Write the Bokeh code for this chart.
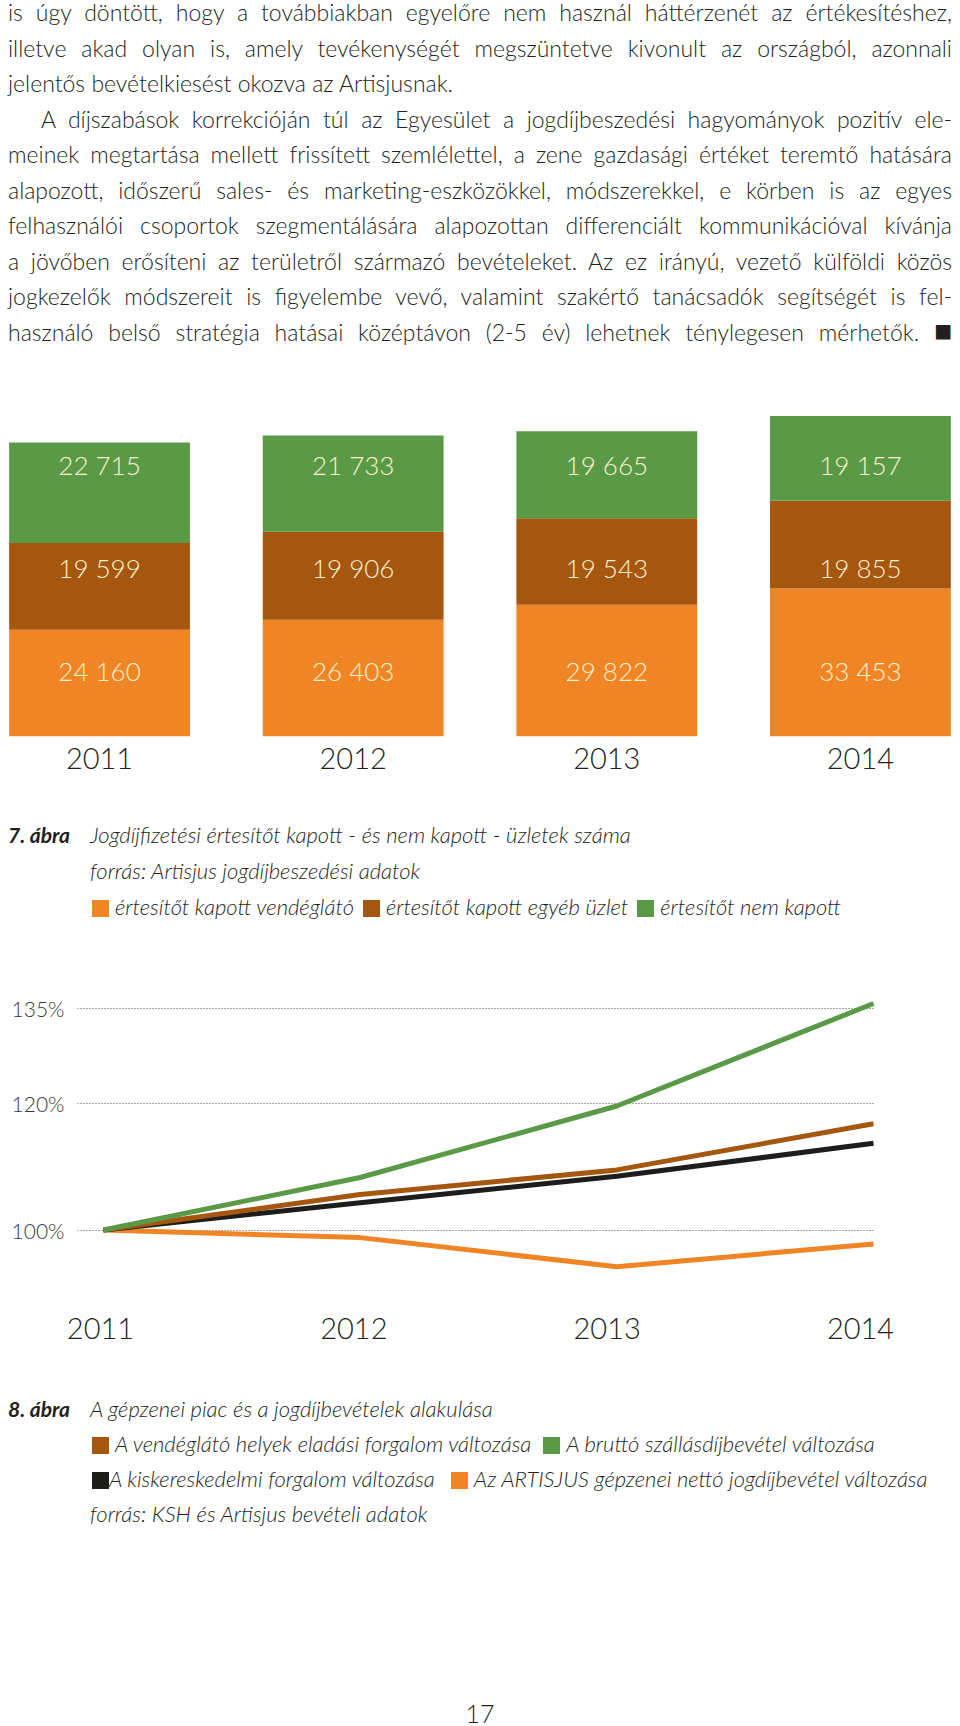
from bokeh.plotting import figure
from bokeh.models import (Div, ColumnDataSource, Range1d, FixedTicker, PrintfTickFormatter,
                          LinearAxis)
from bokeh.layouts import column
from bokeh.core.properties import value
from bokeh.embed import file_html
from bokeh.resources import INLINE

# ---------------- data ----------------
years = [2011, 2012, 2013, 2014]
vendeglato = [24160, 26403, 29822, 33453]      # értesítőt kapott vendéglátó
egyeb_uzlet = [19599, 19906, 19543, 19855]     # értesítőt kapott egyéb üzlet
nem_kapott = [22715, 21733, 19665, 19157]      # értesítőt nem kapott

line_years = [2011, 2012, 2013, 2014]
vendeglato_forgalom = [100, 105.6, 109.5, 116.8]
szallasdij = [100, 108.3, 119.6, 135.8]
kiskereskedelmi = [100, 104.3, 108.5, 113.7]
artisjus_netto = [100, 98.8, 94.2, 97.8]
pct_ticks = [100, 120, 135]

para_lines = [
    "is úgy döntött, hogy a továbbiakban egyelőre nem használ háttérzenét az értékesítéshez,",
    "illetve akad olyan is, amely tevékenységét megszüntetve kivonult az országból, azonnali",
    "jelentős bevételkiesést okozva az Artisjusnak.",
    "A díjszabások korrekcióján túl az Egyesület a jogdíjbeszedési hagyományok pozitív ele-",
    "meinek megtartása mellett frissített szemlélettel, a zene gazdasági értéket teremtő hatására",
    "alapozott, időszerű sales- és marketing-eszközökkel, módszerekkel, e körben is az egyes",
    "felhasználói csoportok szegmentálására alapozottan differenciált kommunikációval kívánja",
    "a jövőben erősíteni az területről származó bevételeket. Az ez irányú, vezető külföldi közös",
    "jogkezelők módszereit is figyelembe vevő, valamint szakértő tanácsadók segítségét is fel-",
    "használó belső stratégia hatásai középtávon (2-5 év) lehetnek ténylegesen mérhetők.",
]

# ---------------- style ----------------
GREEN = "#5a9a47"
BROWN = "#a5560f"
ORANGE = "#f08526"
BLACK = "#1d1d1b"
TEXT = "#231f20"
CREAM = "#fdf1cf"
LIGHT = "Lato Light"
HTML_FONT = "Lato, 'Lato Light', sans-serif"

# ---------------- paragraph ----------------
rows = []
for i, ln_text in enumerate(para_lines):
    align = "left" if i == 2 else "justify"
    indent = "33px" if i == 3 else "0px"
    if i == len(para_lines) - 1:
        ln_text += ' <span style="font-size:30px;line-height:0;">■</span>'
    rows.append(
        f'<div style="height:35.5px;text-align:{align};text-align-last:{align};'
        f'text-indent:{indent};">{ln_text}</div>'
    )
para = Div(
    text=(f'<div style="margin-top:-13px;width:944px;font-family:{HTML_FONT};font-weight:300;'
          f'font-size:23px;line-height:35.5px;color:{TEXT};">' + "".join(rows) + "</div>"),
    width=944, height=387, margin=0,
)

# ---------------- stacked bar chart ----------------
bar_src = ColumnDataSource(dict(year=years, vendeglato=vendeglato,
                                egyeb=egyeb_uzlet, nem=nem_kapott))
bar = figure(width=944, height=390, x_range=Range1d(2010.641, 2014.363),
             y_range=Range1d(0, 77114), output_backend="svg", toolbar_location=None,
             y_axis_location=None, min_border_left=0, min_border_right=0,
             min_border_top=0, min_border_bottom=49, frame_align=False, margin=0)
bar.vbar_stack(["vendeglato", "egyeb", "nem"], x="year", width=0.713,
               fill_color=[ORANGE, BROWN, GREEN], line_color=None, source=bar_src)

label_levels = [14800, 38000, 61300]   # vertical label positions of the three tiers
lx, ly, lt = [], [], []
for level, series in zip(label_levels, [vendeglato, egyeb_uzlet, nem_kapott]):
    for yr, v in zip(years, series):
        lx.append(yr)
        ly.append(level)
        lt.append(f"{v:,}".replace(",", " "))
bar.text(x=lx, y=ly, text=lt, text_align="center", text_baseline="middle",
         text_color=CREAM, text_font=value(LIGHT), text_font_size="26px")

bar.xaxis.ticker = FixedTicker(ticks=years)
bar.xaxis.axis_line_color = None
bar.xaxis.major_tick_line_color = None
bar.xaxis.minor_tick_line_color = None
bar.xaxis.major_label_standoff = 5
bar.xaxis.major_label_text_font = LIGHT
bar.xaxis.major_label_text_font_size = "29px"
bar.xaxis.major_label_text_color = TEXT
bar.grid.visible = False
bar.outline_line_color = None

# ---------------- caption 7 ----------------
def sq(color, gap=6):
    return (f'<span style="display:inline-block;width:17px;height:17px;background:{color};'
            f'vertical-align:middle;margin-right:{gap}px;position:relative;top:-1px;"></span>')

cap_style = (f"font-family:{HTML_FONT};font-weight:300;font-style:italic;font-size:22px;"
             f"color:{TEXT};white-space:nowrap;")
lbl_style = "display:inline-block;width:82px;font-weight:700;font-style:italic;font-size:21px;"

cap7 = Div(text=(
    f'<div style="{cap_style}padding-top:32px;line-height:36px;">'
    f'<div><span style="{lbl_style}">7. ábra</span>'
    f'Jogdíjfizetési értesítőt kapott - és nem kapott - üzletek száma</div>'
    f'<div style="padding-left:82px;">forrás: Artisjus jogdíjbeszedési adatok</div>'
    f'<div style="padding-left:84px;">{sq(ORANGE)}<span style="margin-right:9px;">értesítőt kapott vendéglátó</span>'
    f'{sq(BROWN)}<span style="margin-right:9px;">értesítőt kapott egyéb üzlet</span>'
    f'{sq(GREEN)}<span>értesítőt nem kapott</span></div>'
    f'</div>'), width=944, height=160, margin=0)

# ---------------- line chart ----------------
ln = figure(width=944, height=440, x_range=Range1d(2010.899, 2014.0078),
            y_range=Range1d(88.86, 144.97), output_backend="svg", toolbar_location=None,
            x_axis_location=None,
            min_border_left=67, min_border_right=77, min_border_top=0, min_border_bottom=85,
            frame_align=False, margin=0)
for series, color in [(artisjus_netto, ORANGE), (kiskereskedelmi, BLACK),
                      (vendeglato_forgalom, BROWN), (szallasdij, GREEN)]:
    ln.line(line_years, series, line_color=color, line_width=5)

# year axis of the line chart uses its own (slightly narrower) range, as in the original
ln.extra_x_ranges = {"year_axis": Range1d(2010.9094, 2014.059)}
year_axis = LinearAxis(x_range_name="year_axis", ticker=FixedTicker(ticks=line_years))
year_axis.axis_line_color = None
year_axis.major_tick_line_color = None
year_axis.minor_tick_line_color = None
year_axis.major_label_standoff = 11
year_axis.major_label_text_font = LIGHT
year_axis.major_label_text_font_size = "29px"
year_axis.major_label_text_color = TEXT
ln.add_layout(year_axis, "below")

ln.yaxis.ticker = FixedTicker(ticks=pct_ticks)
ln.yaxis.formatter = PrintfTickFormatter(format="%d%%")
ln.yaxis.axis_line_color = None
ln.yaxis.major_tick_line_color = None
ln.yaxis.minor_tick_line_color = None
ln.yaxis.major_tick_out = 0
ln.yaxis.major_tick_in = 0
ln.yaxis.minor_tick_out = 0
ln.yaxis.major_label_standoff = 13
ln.yaxis.major_label_text_font = LIGHT
ln.yaxis.major_label_text_font_size = "21px"
ln.yaxis.major_label_text_color = "#3a3a3a"

ln.xgrid.visible = False
ln.ygrid.ticker = FixedTicker(ticks=pct_ticks)
ln.ygrid.grid_line_color = "#4d4d4d"
ln.ygrid.grid_line_dash = "1 2"
ln.ygrid.grid_line_width = 1
ln.outline_line_color = None

# ---------------- caption 8 ----------------
cap8 = Div(text=(
    f'<div style="{cap_style}padding-top:6px;line-height:35px;">'
    f'<div><span style="{lbl_style}">8. ábra</span>A gépzenei piac és a jogdíjbevételek alakulása</div>'
    f'<div style="padding-left:84px;">{sq(BROWN)}<span style="margin-right:12px;">A vendéglátó helyek eladási forgalom változása</span>'
    f'{sq(GREEN)}<span>A bruttó szállásdíjbevétel változása</span></div>'
    f'<div style="padding-left:84px;">{sq(BLACK, 0)}<span style="margin-right:16px;">A kiskereskedelmi forgalom változása</span>'
    f'{sq(ORANGE)}<span>Az ARTISJUS gépzenei nettó jogdíjbevétel változása</span></div>'
    f'<div style="padding-left:82px;">forrás: KSH és Artisjus bevételi adatok</div>'
    f'</div>'), width=944, height=160, margin=0)

# ---------------- page number ----------------
pnum = Div(text=(f'<div style="padding-top:163px;line-height:10px;text-align:center;width:944px;'
                 f'font-family:{HTML_FONT};font-weight:300;font-size:25px;color:{TEXT};">17</div>'),
           width=944, height=173, margin=0)

page = column(para, bar, cap7, ln, cap8, pnum, spacing=0, margin=(8, 8, 0, 8))

with open("out.html", "w") as f:
    f.write(file_html(page, INLINE, title="Artisjus"))
